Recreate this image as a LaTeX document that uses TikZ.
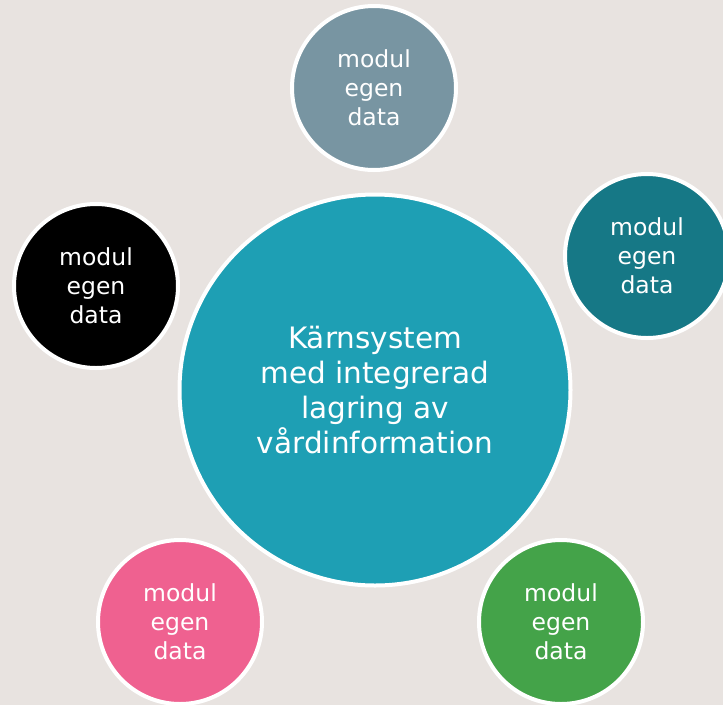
\documentclass[tikz,border=0pt]{standalone}
\usepackage{fontspec}
\setmainfont{DejaVu Sans}
\usetikzlibrary{positioning}
\definecolor{bakgrund}{HTML}{E8E3E0}
\definecolor{karnfarg}{HTML}{1E9FB4}
\definecolor{gratt}{HTML}{7895A2}
\definecolor{morkturkos}{HTML}{167886}
\definecolor{rosa}{HTML}{EF6190}
\definecolor{gron}{HTML}{44A349}

\begin{document}
\begin{tikzpicture}[x=1pt,y=-1pt,
  modul/.style={circle,draw=white,line width=4pt,inner sep=0pt,minimum size=164pt,
    text=white,align=center,font=\fontsize{23.5}{29}\selectfont},
  karna/.style={modul,minimum size=391pt,font=\fontsize{29.5}{35}\selectfont}]
\fill[bakgrund] (0,0) rectangle (723,705);
\clip (0,0) rectangle (723,705);
\node[karna,fill=karnfarg] (core) at (375,390) {Kärnsystem\\med integrerad\\lagring av\\vårdinformation};
\foreach \n/\px/\py/\c in {topp/374/88/gratt,hoger/647/256/morkturkos,vanster/96/286/black,nedvanster/180/622/rosa,nedhoger/561/622/gron}{
  \node[modul,fill=\c] (\n) at (\px,\py) {modul\\egen\\data};}
\end{tikzpicture}
\end{document}
